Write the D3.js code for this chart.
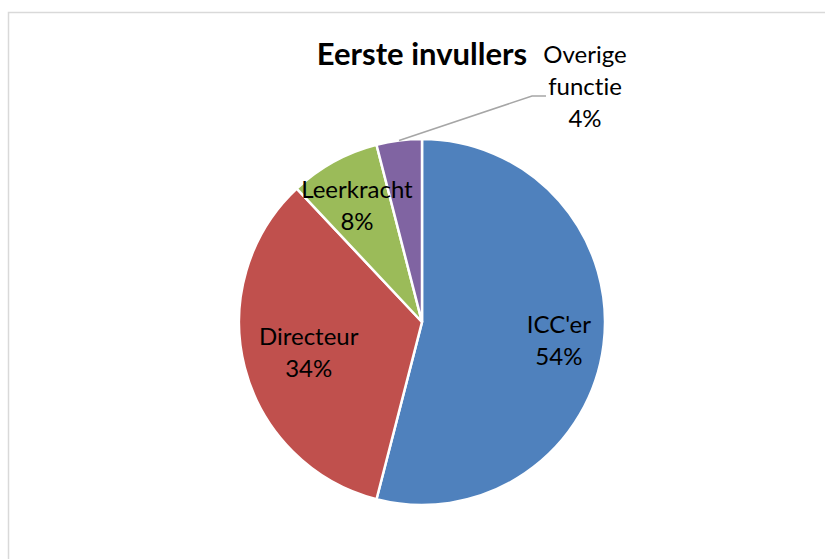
<!DOCTYPE html>
<html>
<head>
<meta charset="utf-8">
<script src="https://cdn.jsdelivr.net/npm/d3@7"></script>
<style>
  body { margin: 0; background: #fff; }
  text { font-family: Lato, "Open Sans", sans-serif; font-variant-ligatures: none; }
</style>
</head>
<body>
<svg id="chart" width="825" height="559"></svg>
<script>
const categories = ["ICC'er", "Directeur", "Leerkracht", "Overige functie"]
const values = [54, 34, 8, 4]
const colors = ["#4f81bd", "#c0504d", "#9bbb59", "#8064a2"]

const cx = 422, cy = 322, radius = 183
// label distance from centre, per slice (Excel puts them a bit unevenly)
const labelRadius = [138, 117, 135]

const svg = d3.select("#chart")

// chart frame, only top and left are inside the picture
svg.append("rect")
    .attr("x", 8.5).attr("y", 12.5)
    .attr("width", 900).attr("height", 700)
    .attr("fill", "none")
    .attr("stroke", "#d9d9d9")
    .attr("stroke-width", 1.5)

svg.append("text")
    .attr("x", 422).attr("y", 65)
    .attr("text-anchor", "middle")
    .attr("font-size", "31px")
    .attr("font-weight", "bold")
    .text("Eerste invullers")

const pie = d3.pie().sort(null).value(d => d)
const arcs = pie(values)
const arc = d3.arc().innerRadius(0).outerRadius(radius)

const g = svg.append("g").attr("transform", "translate(" + cx + "," + cy + ")")

g.selectAll("path")
    .data(arcs)
    .enter()
    .append("path")
    .attr("d", arc)
    .attr("fill", (d, i) => colors[i])
    .attr("stroke", "#fff")
    .attr("stroke-width", 2.5)

const total = d3.sum(values)
const pct = v => Math.round(v / total * 100) + "%"

// inside labels
arcs.slice(0, 3).forEach((d, i) => {
    const a = (d.startAngle + d.endAngle) / 2
    const r = labelRadius[i]
    const x = Math.sin(a) * r, y = -Math.cos(a) * r
    const t = g.append("text")
        .attr("text-anchor", "middle")
        .attr("font-size", "24px")
        .attr("fill", "#000")
    t.append("tspan").attr("x", x).attr("y", y - 6).text(categories[i])
    t.append("tspan").attr("x", x).attr("y", y + 26).text(pct(values[i]))
})

// outside label for the small slice, with leader line
const last = arcs[3]
const am = (last.startAngle + last.endAngle) / 2
const p0 = [Math.sin(am) * radius, -Math.cos(am) * radius]
const p1 = [532 - cx, 96 - cy]
const p2 = [546 - cx, 96 - cy]
g.append("polyline")
    .attr("points", [p0, p1, p2].map(p => p.join(",")).join(" "))
    .attr("fill", "none")
    .attr("stroke", "#a6a6a6")
    .attr("stroke-width", 1.5)

const words = categories[3].split(" ")
const ot = svg.append("text")
    .attr("text-anchor", "middle")
    .attr("font-size", "24px")
ot.append("tspan").attr("x", 585).attr("y", 63).text(words[0])
ot.append("tspan").attr("x", 585).attr("y", 95).text(words[1])
ot.append("tspan").attr("x", 585).attr("y", 127).text(pct(values[3]))
</script>
</body>
</html>
